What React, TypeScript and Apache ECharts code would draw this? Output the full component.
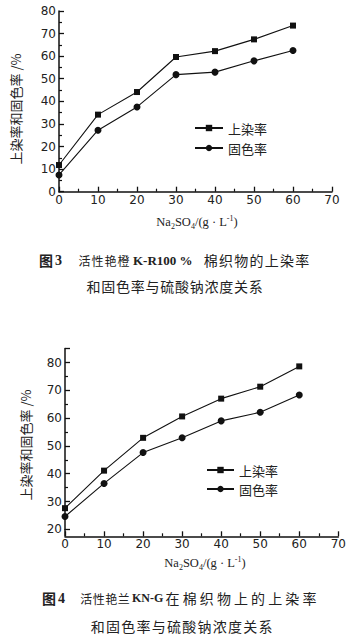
import React, { useEffect, useRef } from "react";
import * as echarts from "echarts";

// Na2SO4 concentration (g/L)
const concentrations = [0, 10, 20, 30, 40, 50, 60];
// Fig.3 活性艳橙 K-R
const fig3Uptake = [11.8, 34.1, 44.1, 59.6, 62.2, 67.4, 73.5];
const fig3Fixation = [7.4, 27.2, 37.5, 51.8, 52.9, 57.9, 62.5];
// Fig.4 活性艳兰 KN-G
const fig4Uptake = [27.6, 41.1, 52.9, 60.6, 67.0, 71.3, 78.6];
const fig4Fixation = [24.6, 36.5, 47.6, 52.9, 59.0, 62.1, 68.3];

const seriesNames = ["上染率", "固色率"];
const yAxisTitle = "上染率和固色率 /%";

const AXIS_COLOR = "#111";
const LABEL_FONT = "DejaVu Sans";
const CJK_FONT = "Noto Sans CJK SC";

function pairs(ys: number[]) {
  return concentrations.map((x, i) => [x, ys[i]]);
}

function mkX(gridIndex: number, offset: number) {
  return {
    type: "value",
    gridIndex,
    min: 0,
    max: 70,
    interval: 10,
    offset,
    axisLine: { show: true, onZero: false, lineStyle: { color: AXIS_COLOR, width: 1.5 } },
    axisTick: { show: true, inside: true, length: 5, lineStyle: { color: AXIS_COLOR, width: 1.3 } },
    minorTick: { show: true, splitNumber: 2, length: 3, lineStyle: { color: AXIS_COLOR, width: 1.2 } },
    splitLine: { show: false },
    axisLabel: { margin: 2, fontFamily: LABEL_FONT, fontSize: 12, color: "#222" },
  };
}

function mkY(gridIndex: number, min: number, max: number) {
  return {
    type: "value",
    gridIndex,
    min,
    max,
    interval: 10,
    axisLine: { show: true, onZero: false, lineStyle: { color: AXIS_COLOR, width: 1.5 } },
    axisTick: { show: true, inside: true, length: 5, lineStyle: { color: AXIS_COLOR, width: 1.3 } },
    minorTick: { show: true, splitNumber: 2, length: 3, lineStyle: { color: AXIS_COLOR, width: 1.2 } },
    splitLine: { show: false },
    axisLabel: {
      margin: 3,
      fontFamily: LABEL_FONT,
      fontSize: 12,
      color: "#222",
      showMaxLabel: max % 10 === 0,
    },
  };
}

function mkSeries(name: string, data: number[], idx: number, symbol: string, size: number) {
  return {
    type: "line",
    name,
    xAxisIndex: idx,
    yAxisIndex: idx,
    data: pairs(data),
    symbol,
    symbolSize: size,
    showSymbol: true,
    color: "#111",
    itemStyle: { color: "#111" },
    lineStyle: { color: "#111", width: 1.1 },
  };
}

function mkLegend(left: number, top: number, itemWidth: number, gap: number) {
  return {
    orient: "vertical",
    left,
    top,
    itemWidth,
    itemHeight: 8,
    itemGap: gap,
    data: seriesNames,
    selectedMode: false,
    textStyle: { fontFamily: CJK_FONT, fontSize: 13, color: "#222", lineHeight: 14 },
  };
}

function spread(str: string, x0: number, x1: number, y: number, fontSize = 14, bold = false) {
  const chars = Array.from(str);
  const step = (x1 - x0) / chars.length;
  return chars.map((c, i) => ({
    type: "text",
    x: x0 + (i + 0.5) * step,
    y,
    style: {
      text: c,
      fontFamily: CJK_FONT,
      fontSize,
      fontWeight: bold ? "bold" : "normal",
      fill: "#222",
      align: "center",
      verticalAlign: "middle",
    },
  }));
}

function serifText(text: string, x: number, y: number, fontSize = 14) {
  return {
    type: "text",
    x,
    y,
    style: {
      text,
      fontFamily: "Liberation Serif",
      fontSize,
      fontWeight: "bold",
      fill: "#222",
      align: "left",
      verticalAlign: "middle",
    },
  };
}

function xName(x: number, y: number) {
  return {
    type: "text",
    x,
    y,
    style: {
      text: "{n|Na}{s|2}{n|SO}{s|4}{n|/(g · L}{p|-1}{n|)}",
      align: "center",
      verticalAlign: "middle",
      fill: "#222",
      rich: {
        n: { fontFamily: "Liberation Serif", fontSize: 12.5, lineHeight: 16, verticalAlign: "middle", fill: "#222" },
        s: { fontFamily: "Liberation Serif", fontSize: 8, lineHeight: 16, verticalAlign: "bottom", fill: "#222" },
        p: { fontFamily: "Liberation Serif", fontSize: 8, lineHeight: 16, verticalAlign: "top", fill: "#222" },
      },
    },
  };
}

function yName(x: number, y: number) {
  return {
    type: "text",
    x,
    y,
    rotation: Math.PI / 2,
    style: {
      text: yAxisTitle,
      fontFamily: CJK_FONT,
      fontSize: 13,
      fill: "#222",
      align: "center",
      verticalAlign: "middle",
    },
  };
}

export default function App() {
  const ref = useRef<HTMLDivElement>(null);
  useEffect(() => {
    if (!ref.current) return;
    const chart = echarts.init(ref.current, undefined, { renderer: "svg" });
    const option: any = {
      animation: false,
      backgroundColor: "#fff",
      grid: [
        { left: 59, top: 10.9, width: 273, height: 180.8 },
        { left: 65, top: 348.6, width: 273.3, height: 180.7 },
      ],
      xAxis: [mkX(0, 0), mkX(1, 7)],
      yAxis: [mkY(0, 0, 80), mkY(1, 20, 85)],
      legend: [mkLegend(189, 116, 28, 6), mkLegend(201, 458, 27, 5)],
      series: [
        mkSeries(seriesNames[0], fig3Uptake, 0, "rect", 6),
        mkSeries(seriesNames[1], fig3Fixation, 0, "circle", 7),
        mkSeries(seriesNames[0], fig4Uptake, 1, "rect", 6),
        mkSeries(seriesNames[1], fig4Fixation, 1, "circle", 7),
      ],
      graphic: [
        // y-axis extension for fig 4 (x-axis sits slightly below 20)
        {
          type: "line",
          shape: { x1: 65, y1: 529, x2: 65, y2: 536.5 },
          style: { stroke: AXIS_COLOR, lineWidth: 1.5 },
        },
        xName(197, 222),
        xName(205, 563),
        yName(15, 109),
        yName(25, 445),
        // Fig 3 caption
        ...spread("图", 39, 53, 260, 14, true),
        serifText("3", 55, 260),
        ...spread("活性艳橙", 78, 130, 260, 12),
        serifText("K-R100 %", 133, 260, 13),
        ...spread("棉织物的上染率", 203, 310, 260),
        ...spread("和固色率与硫酸钠浓度关系", 86, 263, 286),
        // Fig 4 caption
        ...spread("图", 42, 56, 598, 14, true),
        serifText("4", 58, 598),
        ...spread("活性艳兰", 80, 130, 598, 12),
        serifText("KN-G", 132, 598, 12),
        ...spread("在棉织物上的上染率", 164, 318, 598),
        ...spread("和固色率与硫酸钠浓度关系", 90, 273, 626),
      ],
    };
    chart.setOption(option);
    return () => chart.dispose();
  }, []);
  return (
    <div
      ref={ref}
      style={{ position: "absolute", left: 0, top: 0, width: 354, height: 637, background: "#fff" }}
    />
  );
}
